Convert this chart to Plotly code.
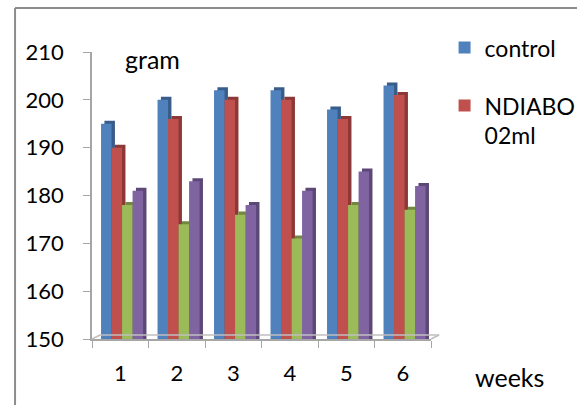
import plotly.graph_objects as go

weeks = ["1", "2", "3", "4", "5", "6"]
control = [195, 200, 202, 202, 198, 203]
ndiabo = [190, 196, 200, 200, 196, 201]
series3 = [178, 174, 176, 171, 178, 177]
series4 = [181, 183, 178, 181, 185, 182]
yticks = [150, 160, 170, 180, 190, 200, 210]

series = [
    ("control", control, "#4F81BD", "#385D8A", True),
    ("NDIABO<br>02ml", ndiabo, "#C0504D", "#8C3836", True),
    ("series 3", series3, "#9BBB59", "#71893F", False),
    ("series 4", series4, "#8064A2", "#5C4776", False),
]

FONT = "Lato"
bw = 0.186
start = -0.34
depth_x = 0.06
depth_y = 0.63

fig = go.Figure()
for i, (name, vals, col, dark, show) in enumerate(series):
    off = start + i * bw
    fig.add_trace(go.Bar(
        x=weeks, y=[v + depth_y - 150 for v in vals], base=150,
        offset=off + depth_x, width=bw, marker=dict(color=dark, line=dict(width=0)),
        showlegend=False, hoverinfo="skip"))
    fig.add_trace(go.Bar(
        x=weeks, y=[v - 150 for v in vals], base=150, name=name,
        offset=off, width=bw, marker=dict(color=col, line=dict(width=0)),
        showlegend=show, legendgroup=name))

floor_col = "#BFBFBF"
fig.update_layout(
    width=577, height=405,
    margin=dict(l=92, r=146, t=52, b=66, autoexpand=False),
    paper_bgcolor="white", plot_bgcolor="white",
    barmode="overlay",
    font=dict(family=FONT, size=22, color="black"),
    showlegend=True,
    legend=dict(x=1.04, y=1.09, xanchor="left", yanchor="top", valign="top",
                font=dict(family=FONT, size=23), tracegroupgap=25,
                itemwidth=30, bgcolor="rgba(0,0,0,0)"),
    xaxis=dict(type="category", showgrid=False, showline=True, linecolor="#A6A6A6",
               linewidth=1.5, ticks="outside", tickson="boundaries", ticklen=7,
               tickcolor="#A6A6A6", ticklabelstandoff=14, range=[-0.5, 5.5]),
    yaxis=dict(range=[150, 210], tickvals=yticks, showgrid=False, showline=True,
               linecolor="#A6A6A6", linewidth=1.5, ticks="outside", ticklen=7,
               tickcolor="#A6A6A6", ticklabelstandoff=15, zeroline=False),
    annotations=[
        dict(text="gram", x=0.177, y=0.975, xref="paper", yref="paper",
             xanchor="center", yanchor="middle",
             showarrow=False, font=dict(family=FONT, size=25)),
        dict(text="weeks", x=1.233, y=-0.133, xref="paper", yref="paper",
             xanchor="center", yanchor="middle",
             showarrow=False, font=dict(family=FONT, size=25)),
    ],
    shapes=[
        dict(type="line", xref="paper", yref="paper", x0=-0.227, x1=1.5, y0=1.153, y1=1.153,
             line=dict(color="#8C8C8C", width=2)),
        dict(type="line", xref="paper", yref="paper", x0=-0.227, x1=-0.227, y0=1.153, y1=-0.3,
             line=dict(color="#8C8C8C", width=2)),
        dict(type="line", xref="paper", yref="paper", x0=0.0, x1=0.024, y0=0.0, y1=0.014,
             line=dict(color=floor_col, width=1.5)),
        dict(type="line", xref="paper", yref="paper", x0=0.024, x1=1.024, y0=0.014, y1=0.014,
             line=dict(color=floor_col, width=1.5)),
        dict(type="line", xref="paper", yref="paper", x0=1.0, x1=1.024, y0=0.0, y1=0.014,
             line=dict(color=floor_col, width=1.5)),
    ],
)

fig.write_html("out.html", config={"displayModeBar": False},
               post_script="document.body.style.margin='0';")
